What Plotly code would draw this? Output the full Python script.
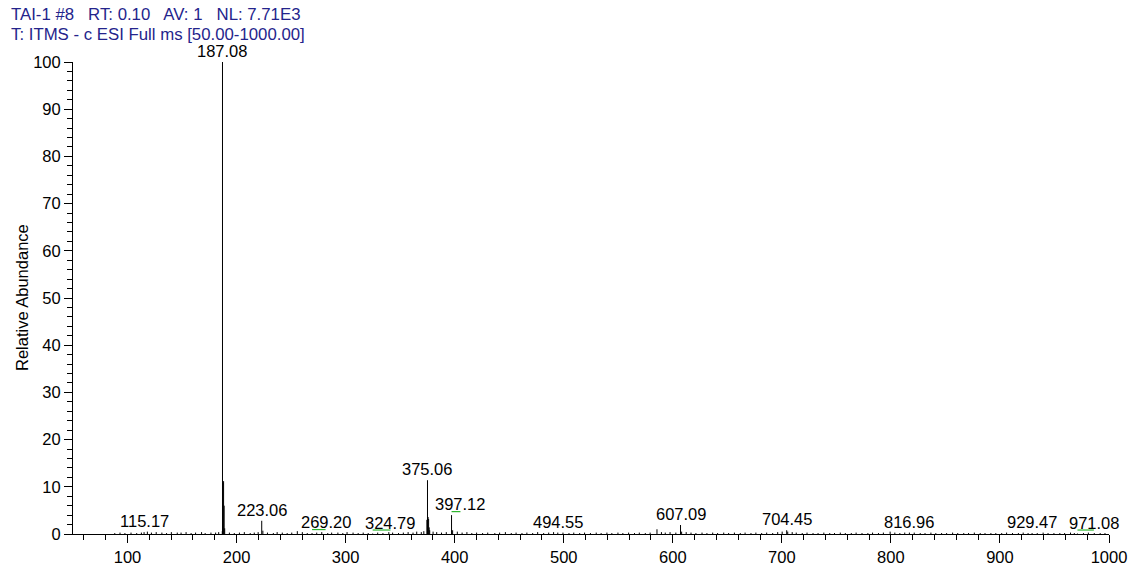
import plotly.graph_objects as go

# ---- spectrum data (m/z, relative abundance %) ----
peak_mz = [115.17, 186.90, 187.08, 187.50, 188.08, 188.60, 189.10,
           223.06, 224.10, 255.70, 269.20, 324.79,
           374.50, 375.06, 375.60, 376.10, 376.60, 377.10,
           397.12, 398.10, 494.55, 585.50, 607.09, 608.10,
           704.45, 705.40, 816.96, 929.47, 971.08]
peak_int = [0.4, 0.6, 100.0, 10.8, 11.2, 6.0, 1.2,
            2.8, 0.7, 0.6, 0.2, 0.1,
            3.0, 11.4, 3.6, 3.2, 1.4, 0.8,
            4.0, 0.8, 0.3, 1.0, 1.9, 0.5,
            0.8, 0.5, 0.3, 0.2, 0.1]

# low-level baseline signals
noise_mz = [88.3, 93.1, 97.6, 103.2, 108.4, 112.7, 118.2, 121.9, 126.3, 131.5,
            135.8, 140.2, 145.6, 149.1, 153.7, 158.3, 162.4, 167.9, 171.2, 176.5,
            180.8, 183.6, 193.4, 197.9, 202.6, 207.1, 212.5, 216.2, 219.8, 228.3,
            233.7, 237.2, 241.9, 246.4, 250.6, 260.3, 264.8, 273.5, 278.1, 283.6,
            287.2, 292.9, 297.4, 301.3, 306.8, 311.5, 316.1, 320.7, 329.4, 334.2,
            339.6, 343.1, 348.5, 352.9, 357.3, 361.8, 365.2, 369.4, 371.7, 380.2,
            383.5, 387.9, 392.3, 402.4, 406.8, 411.2, 415.7, 420.1, 425.6, 430.3,
            436.8, 441.2, 446.5, 451.9, 456.3, 461.7, 466.2, 471.5, 476.1, 481.6,
            486.2, 490.7, 499.3, 504.8, 509.2, 514.6, 519.1, 524.5, 529.8, 534.3,
            539.6, 544.1, 549.7, 554.2, 559.5, 564.9, 569.3, 574.8, 579.2, 589.6,
            593.1, 597.5, 602.8, 612.3, 616.7, 621.2, 626.8, 631.3, 636.6, 641.1,
            646.7, 651.2, 656.5, 661.9, 666.3, 671.7, 676.2, 681.5, 686.1, 691.6,
            696.2, 700.3, 709.5, 713.2, 718.7, 723.1, 728.6, 733.2, 738.5, 743.9,
            748.3, 753.6, 758.2, 763.7, 768.1, 773.5, 778.9, 783.2, 788.6, 793.1,
            799.3, 803.6, 808.2, 812.7, 821.4, 826.9, 831.3, 836.7, 841.2, 846.5,
            851.1, 856.6, 861.3, 866.8, 871.2, 876.5, 881.9, 886.3, 891.7, 896.2,
            901.6, 906.1, 911.5, 916.9, 921.3, 925.8, 934.2, 939.6, 944.1, 949.5,
            954.9, 959.3, 964.7, 968.2, 976.6, 981.1, 986.5, 991.9, 996.3]
noise_int = [0.2, 0.3, 0.2, 0.3, 0.2, 0.3, 0.5, 0.3, 0.4, 0.3,
             0.2, 0.4, 0.3, 0.3, 0.4, 0.2, 0.3, 0.4, 0.2, 0.3,
             0.3, 0.4, 0.3, 0.2, 0.3, 0.4, 0.2, 0.3, 0.4, 0.3,
             0.2, 0.4, 0.3, 0.2, 0.3, 0.4, 0.2, 0.3, 0.4, 0.2,
             0.3, 0.3, 0.2, 0.4, 0.3, 0.2, 0.3, 0.2, 0.3, 0.2,
             0.4, 0.3, 0.2, 0.3, 0.4, 0.3, 0.5, 0.4, 0.6, 0.5,
             0.4, 0.3, 0.4, 0.5, 0.3, 0.4, 0.2, 0.3, 0.2, 0.3,
             0.2, 0.3, 0.4, 0.2, 0.3, 0.2, 0.3, 0.2, 0.4, 0.2,
             0.3, 0.4, 0.3, 0.2, 0.3, 0.2, 0.3, 0.2, 0.3, 0.2,
             0.3, 0.2, 0.3, 0.2, 0.3, 0.2, 0.3, 0.2, 0.3, 0.4,
             0.3, 0.4, 0.3, 0.4, 0.3, 0.2, 0.3, 0.2, 0.3, 0.2,
             0.3, 0.2, 0.3, 0.2, 0.3, 0.2, 0.3, 0.2, 0.3, 0.2,
             0.4, 0.5, 0.4, 0.3, 0.2, 0.3, 0.2, 0.2, 0.3, 0.2,
             0.2, 0.3, 0.2, 0.2, 0.3, 0.2, 0.2, 0.3, 0.2, 0.3,
             0.5, 0.3, 0.2, 0.3, 0.3, 0.2, 0.2, 0.3, 0.2, 0.2,
             0.2, 0.3, 0.2, 0.2, 0.2, 0.3, 0.2, 0.2, 0.2, 0.2,
             0.2, 0.3, 0.2, 0.2, 0.3, 0.2, 0.2, 0.3, 0.2, 0.2,
             0.2, 0.2, 0.3, 0.2, 0.2, 0.3, 0.2, 0.2, 0.2]

# labelled peaks; a few labels sit beside their peak and get a leader
label_mz = [115.17, 187.08, 223.06, 269.20, 324.79, 375.06, 397.12,
            494.55, 607.09, 704.45, 816.96, 929.47, 971.08]
label_text = ["115.17", "187.08", "223.06", "269.20", "324.79", "375.06", "397.12",
              "494.55", "607.09", "704.45", "816.96", "929.47", "971.08"]
label_center = {269.20: 281.6, 324.79: 341.1, 397.12: 405.3, 971.08: 986.1}

x_ticks = [100, 200, 300, 400, 500, 600, 700, 800, 900, 1000]
y_ticks = [0, 10, 20, 30, 40, 50, 60, 70, 80, 90, 100]

header_1 = "TAI-1 #8\u00a0\u00a0 RT: 0.10\u00a0\u00a0 AV: 1\u00a0\u00a0 NL: 7.71E3"
header_2 = "T: ITMS - c ESI Full ms [50.00-1000.00]"

FONT = "Arial, Liberation Sans, sans-serif"
FS = 16.5
HEADER_FS = 16.8
HEADER_COLOR = "#24248c"
LEADER_COLOR = "#2fb52f"

# stick spectrum: one vertical segment per signal
all_mz = noise_mz + peak_mz
all_int = noise_int + peak_int
xs, ys = [], []
for m, h in zip(all_mz, all_int):
    xs += [m, m, None]
    ys += [0, h, None]

fig = go.Figure()
fig.add_trace(go.Scatter(x=xs, y=ys, mode="lines",
                         line=dict(color="black", width=1),
                         hoverinfo="skip", showlegend=False))

intensity_of = dict(zip(peak_mz, peak_int))
annotations = []
shapes = []
for m, t in zip(label_mz, label_text):
    h = intensity_of[m]
    cx = label_center.get(m, m)
    annotations.append(dict(x=cx, y=h, xref="x", yref="y", text=t,
                            showarrow=False, xanchor="center", yanchor="middle",
                            yshift=11, font=dict(family=FONT, size=FS, color="black")))
    if m in label_center:
        shapes.append(dict(type="line", xref="x", yref="y", x0=m, x1=cx,
                           ysizemode="pixel", yanchor=h, y0=3.5, y1=3.5,
                           line=dict(color=LEADER_COLOR, width=1.2)))

# header lines and y-axis title
annotations += [
    dict(x=-0.0615, y=1.0996, xref="paper", yref="paper", text=header_1,
         showarrow=False, xanchor="left", yanchor="middle",
         font=dict(family=FONT, size=HEADER_FS, color=HEADER_COLOR)),
    dict(x=-0.0615, y=1.0593, xref="paper", yref="paper", text=header_2,
         showarrow=False, xanchor="left", yanchor="middle",
         font=dict(family=FONT, size=HEADER_FS, color=HEADER_COLOR)),
    dict(x=-0.0492, y=0.5, xref="paper", yref="paper", text="Relative Abundance",
         textangle=-90, showarrow=False, xanchor="center", yanchor="middle",
         font=dict(family=FONT, size=FS, color="black")),
]

fig.update_layout(
    width=1136, height=571,
    margin=dict(l=73, r=27, t=62, b=37, autoexpand=False),
    paper_bgcolor="white", plot_bgcolor="white",
    annotations=annotations, shapes=shapes,
    xaxis=dict(range=[50, 1000], tickvals=x_ticks, ticks="outside", ticklen=8,
               tickwidth=1, tickcolor="black", showline=True, linecolor="black",
               linewidth=1, showgrid=False, zeroline=False, automargin=False,
               minor=dict(dtick=20, tick0=0, ticks="outside", ticklen=5,
                          tickcolor="black", showgrid=False),
               tickfont=dict(family=FONT, size=FS, color="black")),
    xaxis2=dict(range=[50, 1000], overlaying="x", anchor="y", side="bottom",
                dtick=10, tick0=0, ticks="outside", ticklen=3, tickcolor="black",
                showticklabels=False, showline=False, showgrid=False,
                zeroline=False, automargin=False),
    yaxis=dict(range=[0, 100], tickvals=y_ticks, ticks="outside", ticklen=8,
               tickwidth=1, tickcolor="black", showline=True, linecolor="black",
               linewidth=1, showgrid=False, zeroline=False, automargin=False,
               minor=dict(dtick=2, tick0=0, ticks="outside", ticklen=5,
                          tickcolor="black", showgrid=False),
               tickfont=dict(family=FONT, size=FS, color="black")),
)

fig.write_html("out.html")
